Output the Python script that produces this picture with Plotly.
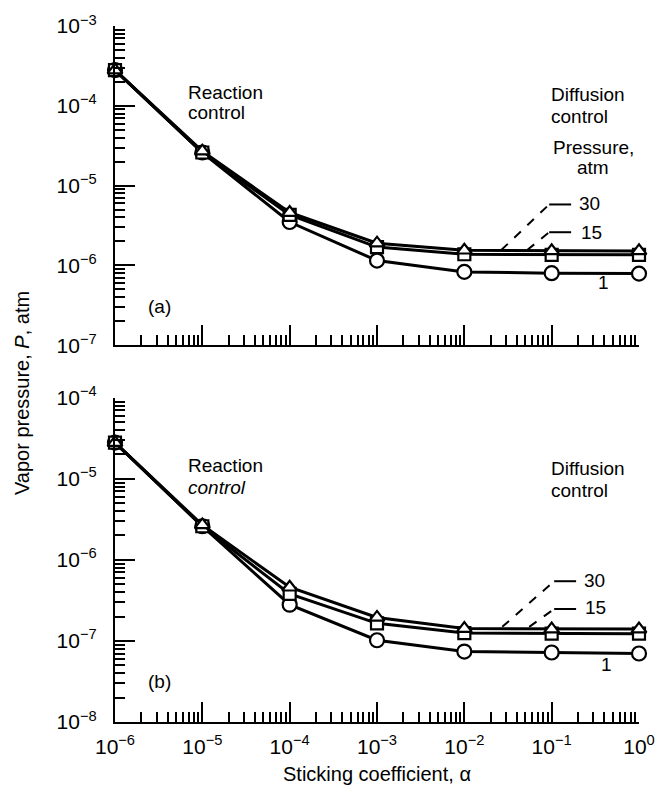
import plotly.graph_objects as go
from plotly.subplots import make_subplots

# ---------------- data ----------------
alpha = [1e-6, 1e-5, 1e-4, 1e-3, 1e-2, 1e-1, 1.0]

# panel (a)
p30_a = [2.8e-4, 2.7e-5, 4.6e-6, 1.9e-6, 1.55e-6, 1.52e-6, 1.52e-6]
p15_a = [2.8e-4, 2.6e-5, 4.3e-6, 1.7e-6, 1.38e-6, 1.36e-6, 1.36e-6]
p1_a = [2.8e-4, 2.6e-5, 3.5e-6, 1.15e-6, 8.3e-7, 8.0e-7, 7.9e-7]

# panel (b)
p30_b = [2.8e-5, 2.7e-6, 4.6e-7, 1.95e-7, 1.42e-7, 1.4e-7, 1.4e-7]
p15_b = [2.8e-5, 2.6e-6, 3.8e-7, 1.65e-7, 1.25e-7, 1.23e-7, 1.23e-7]
p1_b = [2.8e-5, 2.6e-6, 2.8e-7, 1.02e-7, 7.4e-8, 7.2e-8, 7.0e-8]

x_exponents = [-6, -5, -4, -3, -2, -1, 0]
ya_exponents = [-7, -6, -5, -4, -3]
yb_exponents = [-8, -7, -6, -5, -4]

FONT = "Liberation Sans, Arial, Helvetica, sans-serif"
W, H = 667, 786
L, R, T, B = 115, 27, 20, 64
PW, PH = W - L - R, H - T - B


def px(x, y):
    return (x - L) / PW, (H - B - y) / PH


def labels(exps):
    return ["10<sup>%s</sup>" % (str(e).replace("-", "\u2212")) for e in exps]


def minor_vals(exps):
    out = []
    for e in exps[:-1]:
        for d in range(2, 10):
            out.append(d * 10 ** e)
    return out


fig = make_subplots(rows=2, cols=1, vertical_spacing=0.0)

series = [
    ("1 atm", "circle", 14),
    ("15 atm", "square", 12),
    ("30 atm", "triangle-up", 13),
]
panels = [(1, [p1_a, p15_a, p30_a]), (2, [p1_b, p15_b, p30_b])]
for row, ys in panels:
    for (name, sym, sz), y in zip(series, ys):
        fig.add_trace(
            go.Scatter(
                x=alpha, y=y, mode="lines+markers", name=name, showlegend=False,
                cliponaxis=False,
                line=dict(color="black", width=3),
                marker=dict(symbol=sym, size=sz, color="white",
                            line=dict(color="black", width=2.2)),
            ),
            row=row, col=1,
        )

# domains (pixel based)
ya_top, ya_bot = 20, 342
yb_top, yb_bot = 395, 722

TICKFONT = dict(family=FONT, size=21, color="black")
axis_common = dict(
    type="log", showline=True, linecolor="black", linewidth=2.2,
    ticks="inside", ticklen=20, tickwidth=2, tickcolor="black",
    showgrid=False, zeroline=False, mirror=False,
    tickfont=TICKFONT,
)
MINOR = dict(ticks="inside", ticklen=10, tickwidth=1.6, tickcolor="black",
             tickmode="array", showgrid=False)

for ax in ("xaxis", "xaxis2"):
    fig.layout[ax].update(
        **axis_common,
        range=[-6, 0], domain=[0, 1],
        tickmode="array", tickvals=[10 ** e for e in x_exponents], ticktext=labels(x_exponents),
        minor=dict(MINOR, tickvals=minor_vals(x_exponents)),
    )
fig.layout.xaxis.update(showticklabels=False)
fig.layout.xaxis2.update(ticklabelstandoff=5)

fig.layout.yaxis.update(
    **axis_common, range=[-7, -3],
    domain=[px(0, ya_bot)[1], px(0, ya_top)[1]],
    tickmode="array", tickvals=[10 ** e for e in ya_exponents], ticktext=labels(ya_exponents),
    minor=dict(MINOR, tickvals=minor_vals(ya_exponents)),
    ticklabelstandoff=12,
)
fig.layout.yaxis2.update(
    **axis_common, range=[-8, -4],
    domain=[px(0, yb_bot)[1], px(0, yb_top)[1]],
    tickmode="array", tickvals=[10 ** e for e in yb_exponents], ticktext=labels(yb_exponents),
    minor=dict(MINOR, tickvals=minor_vals(yb_exponents)),
    ticklabelstandoff=12,
)

anns = []
DY = -4  # visual correction for text box centring


def text(x, y, s, xanchor="left", align="left", size=19, angle=0, dy=DY):
    xp, yp = px(x, y + dy)
    anns.append(dict(x=xp, y=yp, xref="paper", yref="paper", text=s, showarrow=False,
                     xanchor=xanchor, yanchor="middle", align=align, textangle=angle,
                     font=dict(family=FONT, size=size, color="black")))


# panel (a)
text(186, 91, "Reaction")
text(186, 111, "control")
text(550, 93, "Diffusion")
text(550, 115, "control")
text(594, 147, "Pressure,", xanchor="center", align="center")
text(594, 167, "atm", xanchor="center", align="center")
text(578, 200, "30", dy=-1)
text(580, 229, "15", dy=-1)
text(597, 283, "1")
text(146, 307, "(a)")

# panel (b)
text(186, 467, "Reaction")
text(186, 489, "<i>control</i>")
text(550, 470, "Diffusion")
text(550, 492, "control")
text(583, 580, "30", dy=-1)
text(584, 608, "15", dy=-1)
text(600, 668, "1")
text(146, 685, "(b)")

# axis titles
text(22, 390, "Vapor pressure, <i>P</i>, atm", xanchor="center", align="center", size=20,
     angle=-90, dy=0)
text(377, 774, "Sticking coefficient, \u03b1", xanchor="center", align="center", size=20, dy=0)

shapes = []


def seg(x0, y0, x1, y1, dash="solid"):
    a0, b0 = px(x0, y0)
    a1, b1 = px(x1, y1)
    shapes.append(dict(type="line", xref="paper", yref="paper", x0=a0, y0=b0, x1=a1, y1=b1,
                       line=dict(color="black", width=2, dash=dash)))


# leaders (a)
seg(502, 246, 550, 200, "dash")
seg(550, 200, 572, 200)
seg(528, 246, 550, 228, "dash")
seg(550, 228, 572, 228)
# leaders (b)
seg(503, 626, 555, 580, "dash")
seg(555, 580, 577, 580)
seg(530, 626, 555, 608, "dash")
seg(555, 608, 577, 608)

fig.update_layout(
    width=W, height=H,
    margin=dict(l=L, r=R, t=T, b=B),
    paper_bgcolor="white", plot_bgcolor="white",
    annotations=anns, shapes=shapes, showlegend=False,
    font=dict(family=FONT, color="black"),
)

fig.write_html("out.html")
